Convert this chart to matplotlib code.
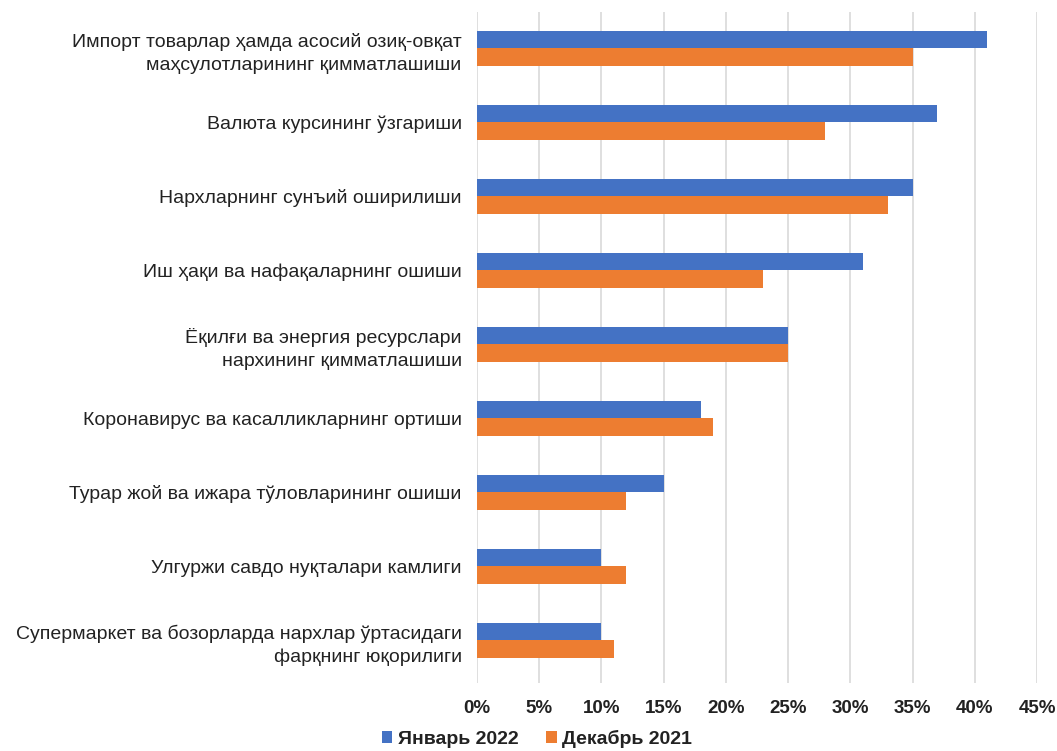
import matplotlib
matplotlib.use("Agg")
import matplotlib.pyplot as plt
import numpy as np
from matplotlib.ticker import FuncFormatter

categories = [
    "Импорт товарлар ҳамда асосий озиқ-овқат\nмаҳсулотларининг қимматлашиши",
    "Валюта курсининг ўзгариши",
    "Нархларнинг сунъий оширилиши",
    "Иш ҳақи ва нафақаларнинг ошиши",
    "Ёқилғи ва энергия ресурслари\nнархининг қимматлашиши",
    "Коронавирус ва касалликларнинг ортиши",
    "Турар жой ва ижара тўловларининг ошиши",
    "Улгуржи савдо нуқталари камлиги",
    "Супермаркет ва бозорларда нархлар ўртасидаги\nфарқнинг юқорилиги",
]
jan2022 = [41, 37, 35, 31, 25, 18, 15, 10, 10]
dec2021 = [35, 28, 33, 23, 25, 19, 12, 12, 11]
series_names = ["Январь 2022", "Декабрь 2021"]
xticks = [0, 5, 10, 15, 20, 25, 30, 35, 40, 45]

plt.rcParams['font.family'] = ['Liberation Sans', 'DejaVu Sans']

fig = plt.figure(figsize=(10.57, 7.51), dpi=100)
ax = fig.add_axes([0.4513, 0.0905, 0.5298, 0.8935])

y = np.arange(len(categories))
h = 0.235
ax.barh(y - h / 2, jan2022, height=h, color='#4472C4', label=series_names[0], zorder=3)
ax.barh(y + h / 2, dec2021, height=h, color='#ED7D31', label=series_names[1], zorder=3)

ax.set_xlim(0, 45)
ax.set_ylim(8.58, -0.49)
ax.set_xticks(xticks)
ax.xaxis.set_major_formatter(FuncFormatter(lambda v, p: f"{int(v)}%"))
ax.set_yticks(y)
ax.set_yticklabels(categories, fontsize=14, color='#222222', ha='right',
                   multialignment='right')
for lab in ax.get_yticklabels():
    lab.set_linespacing(1.45)
ax.tick_params(axis='y', length=0, pad=11)
ax.tick_params(axis='x', length=0, pad=12, labelsize=13.5)
for lab in ax.get_xticklabels():
    lab.set_fontweight('bold')
    lab.set_color('#222222')
ax.grid(axis='x', color='#D9D9D9', linewidth=1.2, zorder=0)
for s in ax.spines.values():
    s.set_visible(False)

leg = fig.legend(loc='lower center', bbox_to_anchor=(0.508, -0.019), ncol=2, frameon=False,
                 handlelength=0.55, handleheight=0.55, handletextpad=0.3, columnspacing=1.4,
                 prop={'weight': 'bold', 'size': 14})
for t in leg.get_texts():
    t.set_color('#222222')

fig.savefig("out.png", dpi=100)
